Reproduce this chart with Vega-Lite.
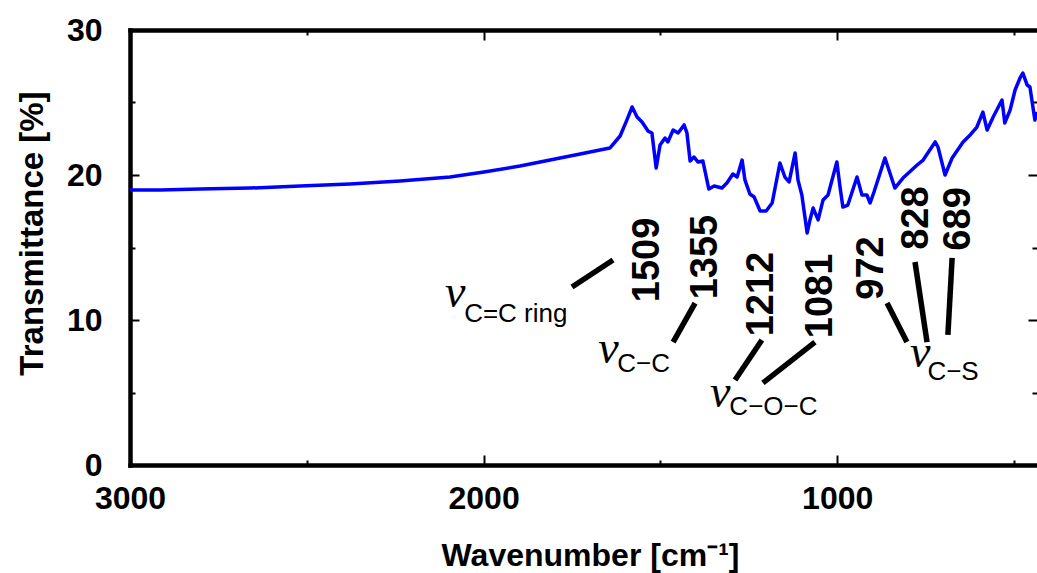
{
  "$schema": "https://vega.github.io/schema/vega-lite/v6.json",
  "width": 907,
  "height": 435,
  "autosize": {"type": "none"},
  "padding": {"left": 130, "top": 30, "right": 0, "bottom": 108},
  "background": "white",
  "config": {"view": {"stroke": null}, "font": "Liberation Sans"},
  "datasets": {
    "spectrum": [
      {"wn": 3000, "t": 18.97}, {"wn": 2915, "t": 18.97}, {"wn": 2802, "t": 19.03}, {"wn": 2661, "t": 19.10},
      {"wn": 2519, "t": 19.24}, {"wn": 2378, "t": 19.38}, {"wn": 2236, "t": 19.59}, {"wn": 2095, "t": 19.86},
      {"wn": 1999, "t": 20.21}, {"wn": 1897, "t": 20.62}, {"wn": 1812, "t": 21.03}, {"wn": 1727, "t": 21.45},
      {"wn": 1671, "t": 21.72}, {"wn": 1643, "t": 21.86}, {"wn": 1614, "t": 22.69}, {"wn": 1597, "t": 23.66},
      {"wn": 1580, "t": 24.69}, {"wn": 1566, "t": 24.0}, {"wn": 1552, "t": 23.66}, {"wn": 1535, "t": 23.03},
      {"wn": 1524, "t": 22.90}, {"wn": 1512, "t": 20.48}, {"wn": 1501, "t": 22.07}, {"wn": 1487, "t": 22.55},
      {"wn": 1479, "t": 22.28}, {"wn": 1464, "t": 23.10}, {"wn": 1450, "t": 22.90}, {"wn": 1433, "t": 23.45},
      {"wn": 1425, "t": 22.90}, {"wn": 1416, "t": 20.97}, {"wn": 1405, "t": 21.24}, {"wn": 1394, "t": 20.90},
      {"wn": 1380, "t": 20.97}, {"wn": 1363, "t": 19.03}, {"wn": 1348, "t": 19.24}, {"wn": 1326, "t": 19.10},
      {"wn": 1312, "t": 19.45}, {"wn": 1295, "t": 20.07}, {"wn": 1283, "t": 19.86}, {"wn": 1269, "t": 21.03},
      {"wn": 1261, "t": 19.66}, {"wn": 1247, "t": 18.69}, {"wn": 1235, "t": 18.48}, {"wn": 1218, "t": 17.52},
      {"wn": 1201, "t": 17.52}, {"wn": 1184, "t": 18.07}, {"wn": 1162, "t": 20.83}, {"wn": 1148, "t": 19.86},
      {"wn": 1136, "t": 19.52}, {"wn": 1119, "t": 21.52}, {"wn": 1111, "t": 19.66}, {"wn": 1100, "t": 18.62},
      {"wn": 1085, "t": 16.0}, {"wn": 1077, "t": 16.90}, {"wn": 1068, "t": 17.72}, {"wn": 1054, "t": 16.90},
      {"wn": 1040, "t": 18.28}, {"wn": 1026, "t": 18.62}, {"wn": 1001, "t": 20.90}, {"wn": 992, "t": 19.17},
      {"wn": 984, "t": 17.79}, {"wn": 970, "t": 17.93}, {"wn": 944, "t": 19.86}, {"wn": 930, "t": 18.62},
      {"wn": 916, "t": 18.62}, {"wn": 907, "t": 18.07}, {"wn": 896, "t": 18.83}, {"wn": 865, "t": 21.17},
      {"wn": 851, "t": 20.14}, {"wn": 837, "t": 19.10}, {"wn": 814, "t": 19.79}, {"wn": 774, "t": 20.69},
      {"wn": 757, "t": 21.03}, {"wn": 723, "t": 22.28}, {"wn": 715, "t": 21.93}, {"wn": 695, "t": 20.0},
      {"wn": 675, "t": 21.17}, {"wn": 644, "t": 22.28}, {"wn": 624, "t": 22.76}, {"wn": 605, "t": 23.31},
      {"wn": 588, "t": 24.34}, {"wn": 576, "t": 23.10}, {"wn": 559, "t": 24.0}, {"wn": 534, "t": 25.17},
      {"wn": 526, "t": 23.59}, {"wn": 511, "t": 24.48}, {"wn": 497, "t": 25.86}, {"wn": 483, "t": 26.69},
      {"wn": 475, "t": 27.03}, {"wn": 463, "t": 26.21}, {"wn": 455, "t": 26.07}, {"wn": 441, "t": 23.79},
      {"wn": 435, "t": 24.34}
    ],
    "leaders": [
      {"wn": 1750, "t": 12.28, "wn2": 1634, "t2": 14.14},
      {"wn": 1464, "t": 8.48, "wn2": 1402, "t2": 11.17},
      {"wn": 1289, "t": 5.86, "wn2": 1213, "t2": 8.62},
      {"wn": 1210, "t": 5.66, "wn2": 1063, "t2": 8.48},
      {"wn": 859, "t": 11.17, "wn2": 803, "t2": 8.48},
      {"wn": 780, "t": 14.0, "wn2": 746, "t2": 8.48},
      {"wn": 675, "t": 14.28, "wn2": 687, "t2": 8.97}
    ],
    "peaks": [
      {"peak": 1509, "wn": 1535, "t": 14.14},
      {"peak": 1355, "wn": 1371, "t": 14.34},
      {"peak": 1212, "wn": 1213, "t": 11.79},
      {"peak": 1081, "wn": 1046, "t": 11.66},
      {"peak": 972, "wn": 902, "t": 13.59},
      {"peak": 828, "wn": 774, "t": 17.03},
      {"peak": 689, "wn": 656, "t": 16.97}
    ],
    "nu": [
      {"sym": "ν", "wn": 2109, "t": 10.9},
      {"sym": "ν", "wn": 1676, "t": 7.03},
      {"sym": "ν", "wn": 1360, "t": 4.0},
      {"sym": "ν", "wn": 794, "t": 6.76}
    ],
    "subs": [
      {"sub": "C=C ring", "wn": 2055, "t": 9.86},
      {"sub": "C−C", "wn": 1622, "t": 6.41},
      {"sub": "C−O−C", "wn": 1305, "t": 3.45},
      {"sub": "C−S", "wn": 745, "t": 5.86}
    ]
  },
  "layer": [
    {
      "data": {"name": "spectrum"},
      "mark": {"type": "line", "color": "#0000ff", "strokeWidth": 3.5, "clip": true, "strokeJoin": "round"},
      "encoding": {
        "x": {
          "field": "wn", "type": "quantitative",
          "scale": {"domain": [435, 3000], "reverse": true, "nice": false, "zero": false},
          "axis": {
            "orient": "bottom",
            "values": [3000, 2500, 2000, 1500, 1000, 500],
            "format": "d",
            "labelExpr": "datum.value % 1000 === 0 ? datum.label : ''",
            "grid": false,
            "domainColor": "black", "domainWidth": 4.5, "domainCap": "square",
            "tickColor": "black", "tickWidth": 2,
            "tickSize": {"condition": {"test": "datum.value % 1000 === 0", "value": -10}, "value": -5},
            "labelFont": "Liberation Sans", "labelFontSize": 32, "labelFontWeight": "bold", "labelColor": "black",
            "labelPadding": 28, "labelFlush": false, "labelOverlap": false,
            "title": "Wavenumber [cm⁻¹]",
            "titleFont": "Liberation Sans", "titleFontSize": 32, "titleFontWeight": "bold", "titleColor": "black",
            "titleX": 460, "titleY": 100, "titleBaseline": "alphabetic", "titleAlign": "center"
          }
        },
        "y": {
          "field": "t", "type": "quantitative",
          "scale": {"domain": [0, 30], "nice": false, "zero": false},
          "axis": {
            "orient": "left",
            "values": [0, 5, 10, 15, 20, 25, 30],
            "labelExpr": "datum.value % 10 === 0 ? datum.label : ''",
            "grid": false,
            "domainColor": "black", "domainWidth": 4.5, "domainCap": "square",
            "tickColor": "black", "tickWidth": 2,
            "tickSize": {"condition": {"test": "datum.value % 10 === 0", "value": -9}, "value": -5},
            "labelFont": "Liberation Sans", "labelFontSize": 32, "labelFontWeight": "bold", "labelColor": "black",
            "labelPadding": 37, "labelFlush": false, "labelOverlap": false,
            "title": "Transmittance [%]",
            "titleFont": "Liberation Sans", "titleFontSize": 33, "titleFontWeight": "bold", "titleColor": "black",
            "titleX": -88, "titleY": 203, "titleAngle": 270, "titleBaseline": "alphabetic", "titleAlign": "center"
          }
        }
      }
    },
    {
      "data": {"name": "leaders"},
      "mark": {"type": "rule", "color": "black", "strokeWidth": 5.5, "strokeCap": "butt"},
      "encoding": {
        "x": {
          "field": "wn", "type": "quantitative",
          "scale": {"domain": [435, 3000], "reverse": true, "nice": false, "zero": false},
          "axis": {
            "orient": "top",
            "values": [3000, 2500, 2000, 1500, 1000, 500],
            "labels": false, "title": null, "grid": false,
            "domainColor": "black", "domainWidth": 4.5, "domainCap": "square",
            "tickColor": "black", "tickWidth": 2,
            "tickSize": {"condition": {"test": "datum.value % 1000 === 0", "value": -10}, "value": -5}
          }
        },
        "x2": {"field": "wn2"},
        "y": {
          "field": "t", "type": "quantitative",
          "scale": {"domain": [0, 30], "nice": false, "zero": false},
          "axis": {
            "orient": "right",
            "values": [0, 5, 10, 15, 20, 25, 30],
            "labels": false, "title": null, "grid": false, "domain": false,
            "tickColor": "black", "tickWidth": 2,
            "tickSize": {"condition": {"test": "datum.value % 10 === 0", "value": -9}, "value": -5}
          }
        },
        "y2": {"field": "t2"}
      }
    },
    {
      "data": {"name": "peaks"},
      "mark": {"type": "text", "angle": 270, "align": "center", "baseline": "middle", "font": "Liberation Sans", "fontSize": 38, "fontWeight": "bold", "color": "black"},
      "encoding": {
        "x": {"field": "wn", "type": "quantitative", "axis": null},
        "y": {"field": "t", "type": "quantitative", "axis": null},
        "text": {"field": "peak", "type": "quantitative", "format": "d"}
      }
    },
    {
      "data": {"name": "nu"},
      "mark": {"type": "text", "align": "left", "baseline": "alphabetic", "font": "Liberation Serif", "fontStyle": "italic", "fontSize": 46, "color": "black"},
      "encoding": {
        "x": {"field": "wn", "type": "quantitative", "axis": null},
        "y": {"field": "t", "type": "quantitative", "axis": null},
        "text": {"field": "sym"}
      }
    },
    {
      "data": {"name": "subs"},
      "mark": {"type": "text", "align": "left", "baseline": "alphabetic", "font": "Liberation Sans", "fontSize": 26, "color": "black"},
      "encoding": {
        "x": {"field": "wn", "type": "quantitative", "axis": null},
        "y": {"field": "t", "type": "quantitative", "axis": null},
        "text": {"field": "sub"}
      }
    }
  ],
  "resolve": {"axis": {"x": "independent", "y": "independent"}}
}
